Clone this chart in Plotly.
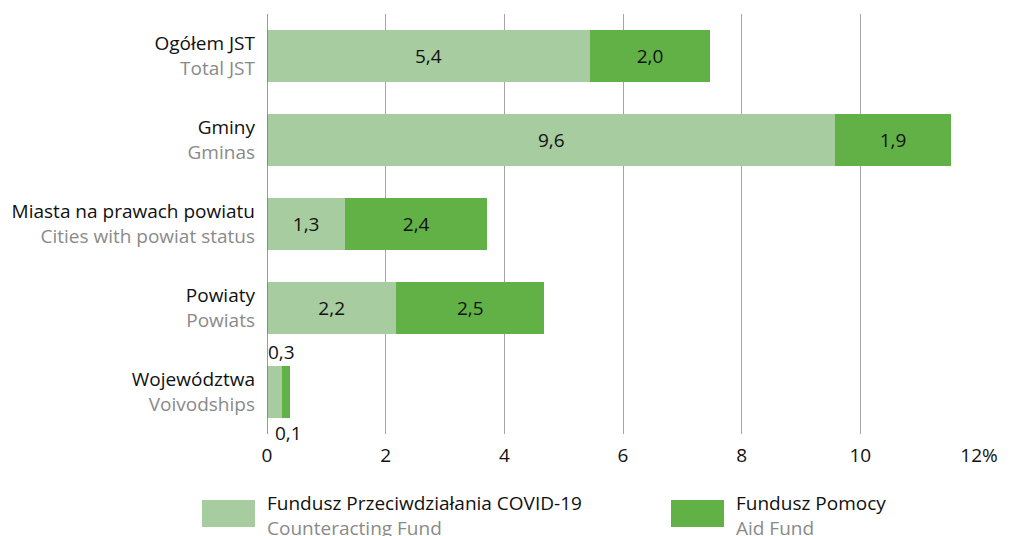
import plotly.graph_objects as go

categories_pl = ["Ogółem JST", "Gminy", "Miasta na prawach powiatu", "Powiaty", "Województwa"]
categories_en = ["Total JST", "Gminas", "Cities with powiat status", "Powiats", "Voivodships"]
counteracting_fund = [5.44, 9.58, 1.32, 2.18, 0.26]
aid_fund = [2.03, 1.94, 2.39, 2.49, 0.13]
x_ticks = [0, 2, 4, 6, 8, 10, 12]
x_tick_labels = ["0", "2", "4", "6", "8", "10", "12%"]
series_pl = ["Fundusz Przeciwdziałania COVID-19", "Fundusz Pomocy"]
series_en = ["Counteracting Fund", "Aid Fund"]

LIGHT = "#a6cc9f"
DARK = "#62b146"
GRAY = "#8a8a8a"
FONT = "Open Sans"
FS = 19

# page body has an 8px margin: figure is sized/shifted to fit the 1010x536 window
OFF = 8
W, H = 1010 - OFF, 536 - OFF
PL, PR, PT, PB = 267 - OFF, 979 - OFF, 14 - OFF, 434 - OFF   # plot area in figure px
PW, PH = PR - PL, PB - PT

def px_to_paper_x(sx):
    return (sx - OFF - PL) / PW

def px_to_paper_y(sy):
    return (PB - (sy - OFF)) / PH

ylabels = [f"{p}<br><span style='color:{GRAY}'>{e}</span>" for p, e in zip(categories_pl, categories_en)]

def fmt(v):
    return f"{v:.1f}".replace(".", ",")

small = [i for i, (a, b) in enumerate(zip(counteracting_fund, aid_fund)) if a + b < 1]

text1 = ["" if i in small else fmt(v) for i, v in enumerate(counteracting_fund)]
text2 = ["" if i in small else fmt(v) for i, v in enumerate(aid_fund)]

fig = go.Figure()
fig.add_trace(go.Bar(y=ylabels, x=counteracting_fund, orientation="h", marker_color=LIGHT,
                     marker_line_width=0, text=text1, textposition="inside",
                     insidetextanchor="middle", textangle=0, constraintext="none",
                     textfont=dict(color="#111", size=FS, family=FONT), name=series_pl[0]))
fig.add_trace(go.Bar(y=ylabels, x=aid_fund, orientation="h", marker_color=DARK,
                     marker_line_width=0, text=text2, textposition="inside",
                     insidetextanchor="middle", textangle=0, constraintext="none",
                     textfont=dict(color="#111", size=FS, family=FONT), name=series_pl[1]))

for i in small:
    fig.add_annotation(x=0, y=ylabels[i], xref="x", yref="y", text=fmt(counteracting_fund[i]),
                       showarrow=False, xanchor="left", yanchor="bottom", yshift=25, xshift=-1,
                       font=dict(size=FS, color="#111", family=FONT))
    fig.add_annotation(x=counteracting_fund[i], y=ylabels[i], xref="x", yref="y", text=fmt(aid_fund[i]),
                       showarrow=False, xanchor="center", yanchor="top", yshift=-26, xshift=6,
                       font=dict(size=FS, color="#111", family=FONT))

# legend drawn manually (large swatches)
legend_items = [(LIGHT, series_pl[0], series_en[0], 202, 265), (DARK, series_pl[1], series_en[1], 671, 734)]
for color, pl, en, bx, tx in legend_items:
    fig.add_shape(type="rect", xref="paper", yref="paper",
                  x0=px_to_paper_x(bx), x1=px_to_paper_x(bx + 53),
                  y0=px_to_paper_y(500), y1=px_to_paper_y(527),
                  fillcolor=color, line_width=0)
    fig.add_annotation(xref="paper", yref="paper", x=px_to_paper_x(tx), y=px_to_paper_y(488),
                       xanchor="left", yanchor="top", showarrow=False, align="left",
                       text=f"{pl}<br><span style='color:{GRAY}'>{en}</span>",
                       font=dict(size=FS, color="#111", family=FONT))

n = len(categories_pl)
fig.update_layout(
    barmode="stack", bargap=0.38, showlegend=False,
    width=W, height=H,
    margin=dict(l=PL, r=W - PR, t=PT, b=H - PB, autoexpand=False),
    paper_bgcolor="white", plot_bgcolor="white",
    font=dict(family=FONT, size=FS, color="#111"),
    xaxis=dict(range=[0, 12], tickvals=x_ticks, ticktext=x_tick_labels, automargin=False,
               showgrid=True, gridcolor="#a6a6a6", gridwidth=1,
               zeroline=False, showline=False, ticks="", ticklabelstandoff=8,
               tickfont=dict(size=FS, color="#111")),
    yaxis=dict(range=[n - 0.5, -0.5], autorange=False, showgrid=False, ticks="",
               ticklabelstandoff=11, automargin=False,
               tickfont=dict(size=FS, color="#111")),
)
fig.add_shape(type="line", xref="x", yref="paper", x0=0, x1=0, y0=0, y1=1,
              line=dict(color="#7a7a7a", width=1.5), layer="above")

fig.write_html("out.html")
